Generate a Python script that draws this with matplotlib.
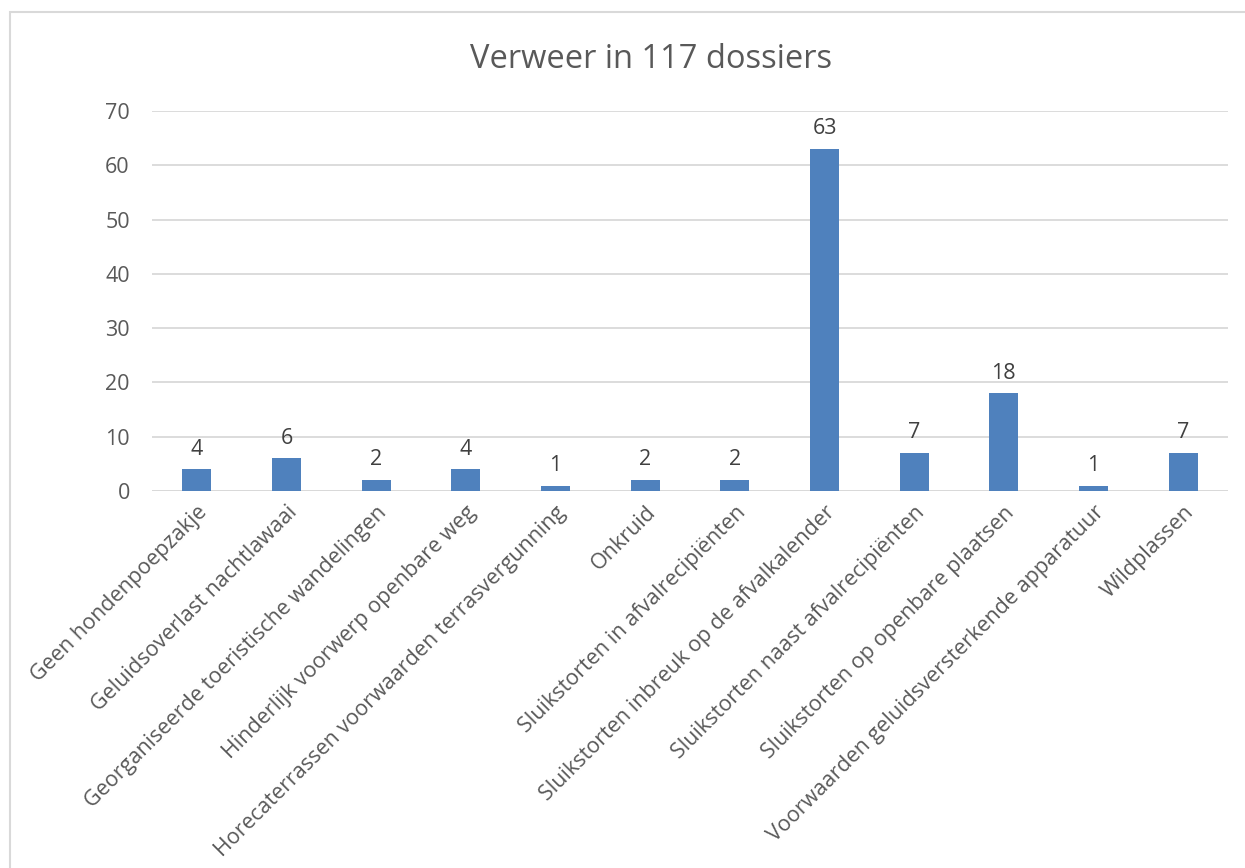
import matplotlib
matplotlib.use("Agg")
import matplotlib.pyplot as plt
from matplotlib.patches import Rectangle

categories = [
    "Geen hondenpoepzakje",
    "Geluidsoverlast nachtlawaai",
    "Georganiseerde toeristische wandelingen",
    "Hinderlijk voorwerp openbare weg",
    "Horecaterrassen voorwaarden terrasvergunning",
    "Onkruid",
    "Sluikstorten in afvalrecipiënten",
    "Sluikstorten inbreuk op de afvalkalender",
    "Sluikstorten naast afvalrecipiënten",
    "Sluikstorten op openbare plaatsen",
    "Voorwaarden geluidsversterkende apparatuur",
    "Wildplassen",
]
counts = [4, 6, 2, 4, 1, 2, 2, 63, 7, 18, 1, 7]
y_ticks = [0, 10, 20, 30, 40, 50, 60, 70]
title = "Verweer in 117 dossiers"

plt.rcParams['font.family'] = ['Open Sans', 'DejaVu Sans']
TEXT = "#595959"
GRID = "#D9D9D9"
BAR = "#4F81BD"

fig = plt.figure(figsize=(12.45, 8.68), dpi=100)
# chart frame like Excel
fig.patches.append(Rectangle((10 / 1245, -0.1), 1.2, 1 - 12 / 868 + 0.1,
                             transform=fig.transFigure, fill=False,
                             edgecolor=GRID, linewidth=1.5))

ax = fig.add_axes([152 / 1245, 1 - 491 / 868, 1076 / 1245, 380 / 868])
x = range(len(categories))
bars = ax.bar(x, counts, width=0.32, color=BAR, zorder=3)
for b, v in zip(bars, counts):
    ax.annotate(str(v), (b.get_x() + b.get_width() / 2, v), xytext=(0, 7),
                textcoords="offset points", ha="center", va="bottom",
                fontsize=15.5, color="#404040")

ax.set_xlim(-0.5, len(categories) - 0.5)
ax.set_ylim(0, 70)
ax.set_yticks(y_ticks)
ax.yaxis.grid(True, color=GRID, linewidth=1.3, zorder=0)
ax.set_axisbelow(True)
for s in ax.spines.values():
    s.set_visible(False)
ax.axhline(0, color=GRID, linewidth=1.3, zorder=2)
ax.tick_params(axis="both", length=0, labelsize=15.5, colors=TEXT)
ax.tick_params(axis="y", pad=16)
ax.set_xticks(list(x))
ax.set_xticklabels(categories, rotation=45, ha="right", rotation_mode="anchor")
ax.tick_params(axis="x", pad=8)

fig.text(651 / 1245, 1 - 60 / 868, title, ha="center", va="center",
         fontsize=23.5, color=TEXT)

fig.savefig("out.png", dpi=100)
